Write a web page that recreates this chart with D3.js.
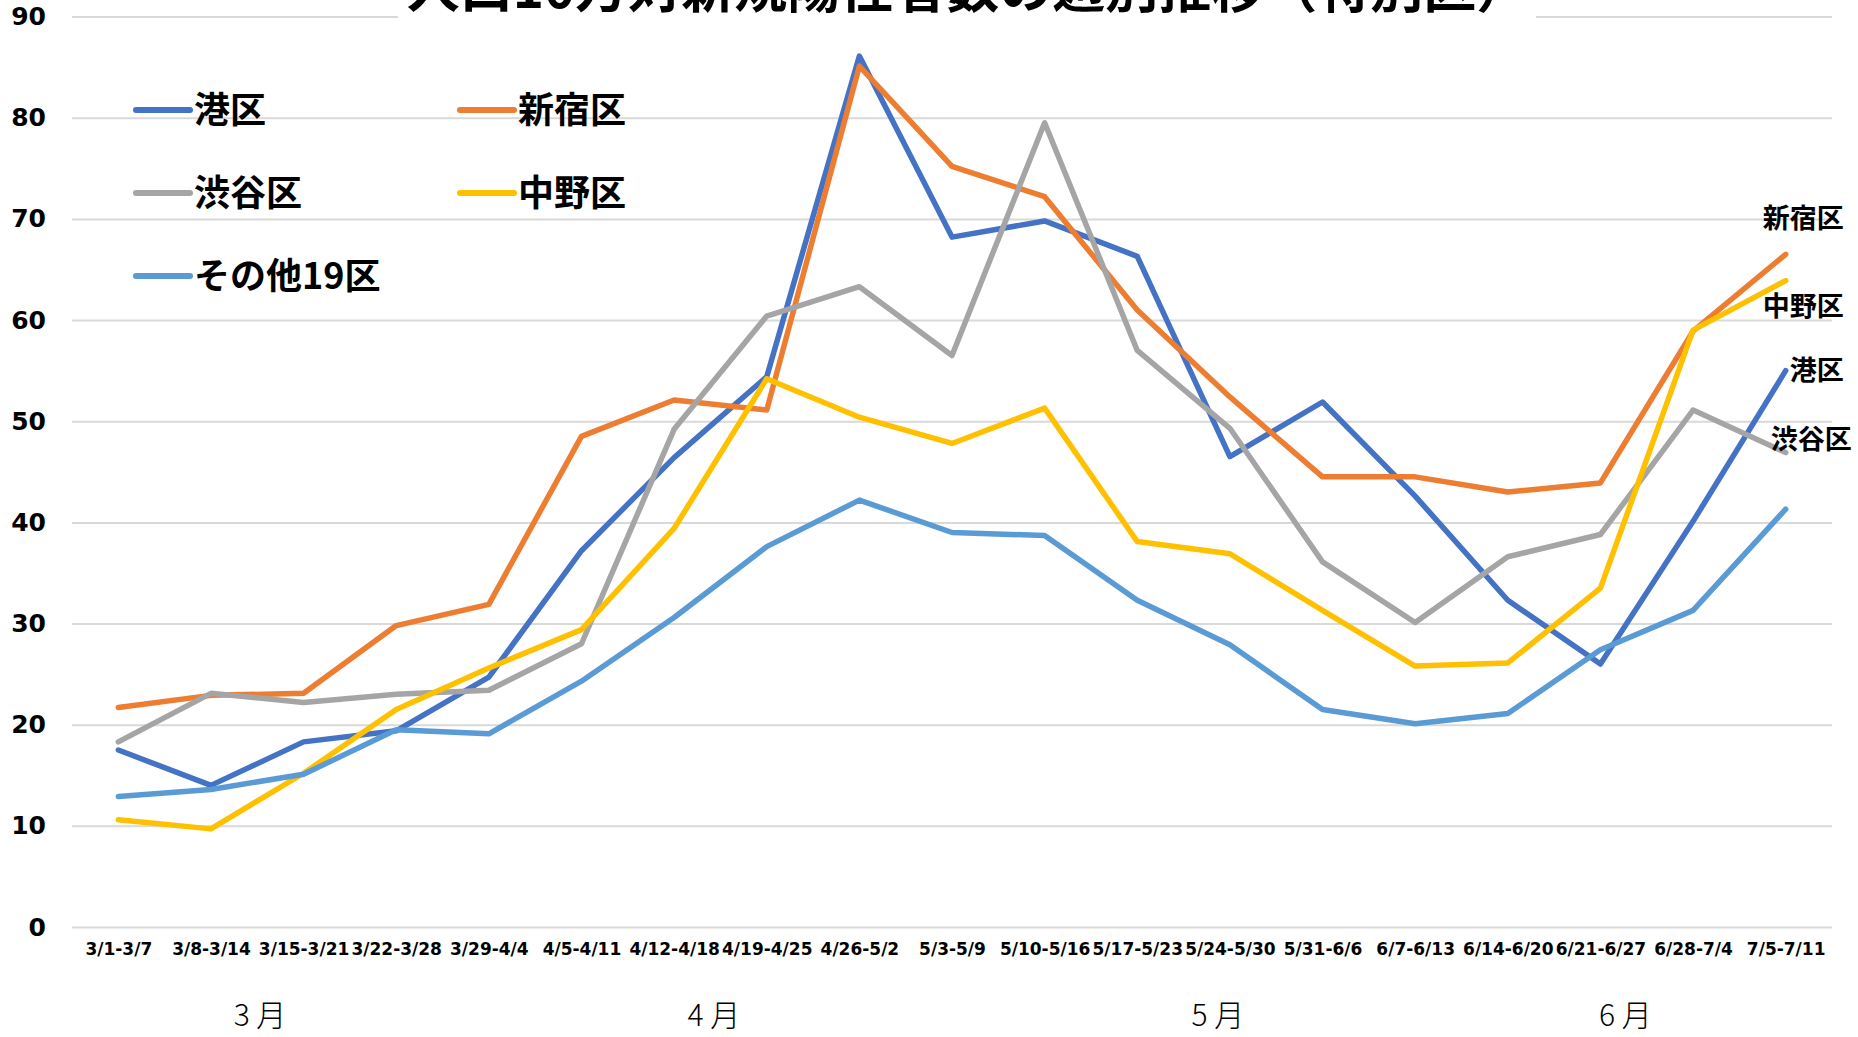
<!DOCTYPE html>
<html>
<head>
<meta charset="utf-8">
<script src="https://cdn.jsdelivr.net/npm/d3@7"></script>
<style>
  body { margin: 0; background: #fff; }
  svg { display: block; }
</style>
</head>
<body>
<script>
       var weeks = ["3/1-3/7", "3/8-3/14", "3/15-3/21", "3/22-3/28", "3/29-4/4", "4/5-4/11",
         "4/12-4/18", "4/19-4/25", "4/26-5/2", "5/3-5/9", "5/10-5/16", "5/17-5/23", "5/24-5/30",
         "5/31-6/6", "6/7-6/13", "6/14-6/20", "6/21-6/27", "6/28-7/4", "7/5-7/11"];

       var minato   = [17.5, 14.0, 18.3, 19.4, 24.7, 37.2, 46.4, 54.4, 86.1, 68.2, 69.8, 66.3, 46.5, 51.9, 42.6, 32.3, 26.0, 40.1, 55.0];
       var shinjuku = [21.7, 22.9, 23.1, 29.8, 31.9, 48.5, 52.1, 51.1, 85.1, 75.2, 72.2, 61.0, 52.4, 44.5, 44.5, 43.0, 43.9, 58.9, 66.5];
       var shibuya  = [18.3, 23.1, 22.2, 23.0, 23.4, 28.0, 49.2, 60.4, 63.3, 56.5, 79.5, 57.0, 49.3, 36.1, 30.1, 36.6, 38.8, 51.1, 46.9];
       var nakano   = [10.6, 9.7, 15.2, 21.5, 25.6, 29.4, 39.4, 54.2, 50.4, 47.8, 51.3, 38.1, 36.9, 31.3, 25.8, 26.1, 33.5, 59.0, 63.9];
       var others   = [12.9, 13.6, 15.1, 19.5, 19.1, 24.3, 30.6, 37.6, 42.2, 39.0, 38.7, 32.3, 27.9, 21.5, 20.1, 21.1, 27.4, 31.3, 41.3];

       var seriesNames = ["港区", "新宿区", "渋谷区", "中野区", "その他19区"];
       var yTicks = [0, 10, 20, 30, 40, 50, 60, 70, 80, 90];
       var months = ["3 月", "4 月", "5 月", "6 月"];
       var endLabels = ["港区", "新宿区", "渋谷区", "中野区"];

       var title = "人口10万対新規陽性者数の週別推移（特別区）";

       var colors = {
        "港区" : "#4472C4",
        "新宿区" : "#ED7D31",
        "渋谷区" : "#A5A5A5",
        "中野区" : "#FFC000",
        "その他19区" : "#5B9BD5"
       };

       var series = [minato, shinjuku, shibuya, nakano, others].map(function(vals, i){
         return {name: seriesNames[i], values: vals};
       });

       // note: "top" is taken by window.top, so plot edges get their own names
       var width = 1858, height = 1037;
       var plotLeft = 72, plotRight = 1832, plotTop = 16.6, plotBottom = 927;

       var canvas = d3.select("body").append("svg")
          .attr("width", width)
          .attr("height", height);

       var x = d3.scalePoint()
          .domain(weeks)
          .range([plotLeft, plotRight])
          .padding(0.5);

       var y = d3.scaleLinear()
          .domain([0, 90])
          .range([plotBottom, plotTop]);

       // month label centres, in week units
       var monthX = d3.scaleLinear().domain([0, weeks.length - 1]).range([x(weeks[0]), x(weeks[weeks.length - 1])]);
       var monthAt = [1.53, 6.43, 11.87, 16.27];

//Gridlines + y labels
       var yAxis = canvas.append("g")
          .attr("transform", "translate(" + plotLeft + ",0)")
          .call(d3.axisLeft(y).tickValues(yTicks).tickSize(-(plotRight - plotLeft)).tickPadding(26))
       yAxis.select(".domain").remove()
       yAxis.selectAll(".tick line")
          .attr("stroke", "#D9D9D9")
          .attr("stroke-width", 2)
       yAxis.selectAll(".tick text")
          .attr("fill", "#000")
          .attr("font-family", "'DejaVu Sans', sans-serif")
          .attr("font-weight", "bold")
          .attr("font-size", 25)

//Week labels
       var xAxis = canvas.append("g")
          .attr("transform", "translate(0," + plotBottom + ")")
          .call(d3.axisBottom(x).tickSize(0).tickPadding(16))
       xAxis.select(".domain").remove()
       xAxis.selectAll(".tick text")
          .attr("fill", "#000")
          .attr("font-family", "'DejaVu Sans', sans-serif")
          .attr("font-weight", "bold")
          .attr("font-size", 17)

       canvas.selectAll("text.month")
          .data(months)
          .enter()
          .append("text")
          .attr("class", "month")
          .attr("x", function(d, i){ return monthX(monthAt[i]); })
          .attr("y", 1026)
          .attr("text-anchor", "middle")
          .attr("font-family", "'Noto Sans CJK JP', sans-serif")
          .attr("font-weight", 300)
          .attr("font-size", 30)
          .text(function(d){ return d; })

//Lines
       var line = d3.line()
          .x(function(d, i){ return x(weeks[i]); })
          .y(function(d){ return y(d); });

       canvas.selectAll("path.series")
          .data(series)
          .enter()
          .append("path")
          .attr("class", "series")
          .attr("d", function(d){ return line(d.values); })
          .attr("fill", "none")
          .attr("stroke", function(d){ return colors[d.name]; })
          .attr("stroke-width", 5.5)
          .attr("stroke-linejoin", "round")
          .attr("stroke-linecap", "round")

//Title (clipped at the top like the original)
       canvas.append("rect")
          .attr("x", 398)
          .attr("y", 0)
          .attr("width", 1138)
          .attr("height", 24)
          .attr("fill", "#fff")
       canvas.append("text")
          .attr("x", 968)
          .attr("y", 8)
          .attr("text-anchor", "middle")
          .attr("font-family", "'Noto Sans CJK JP', sans-serif")
          .attr("font-weight", "bold")
          .attr("font-size", 53)
          .text(title)

//Legend
       var legend = canvas.selectAll("g.legend")
          .data(series)
          .enter()
          .append("g")
          .attr("class", "legend")
          .attr("transform", function(d, i){
            return "translate(" + (136 + (i % 2) * 324) + "," + (110 + Math.floor(i / 2) * 83) + ")";
          })
       legend.append("line")
          .attr("x1", 0)
          .attr("x2", 54)
          .attr("stroke", function(d){ return colors[d.name]; })
          .attr("stroke-width", 6)
          .attr("stroke-linecap", "round")
       legend.append("text")
          .attr("x", 58)
          .attr("dy", "0.36em")
          .attr("font-family", "'Noto Sans CJK JP', sans-serif")
          .attr("font-weight", "bold")
          .attr("font-size", 36)
          .text(function(d){ return d.name; })

//Labels at the line ends
       var endShift = {"港区": [58, 0], "新宿区": [58, -36], "渋谷区": [66, -13], "中野区": [58, 26]};
       var last = weeks.length - 1;
       canvas.selectAll("text.endlabel")
          .data(series.filter(function(s){ return endLabels.indexOf(s.name) > -1; }))
          .enter()
          .append("text")
          .attr("class", "endlabel")
          .attr("x", function(d){ return x(weeks[last]) + endShift[d.name][0]; })
          .attr("y", function(d){ return y(d.values[last]) + endShift[d.name][1]; })
          .attr("dy", "0.36em")
          .attr("text-anchor", "end")
          .attr("font-family", "'Noto Sans CJK JP', sans-serif")
          .attr("font-weight", "bold")
          .attr("font-size", 27)
          .text(function(d){ return d.name; })
</script>
</body>
</html>
